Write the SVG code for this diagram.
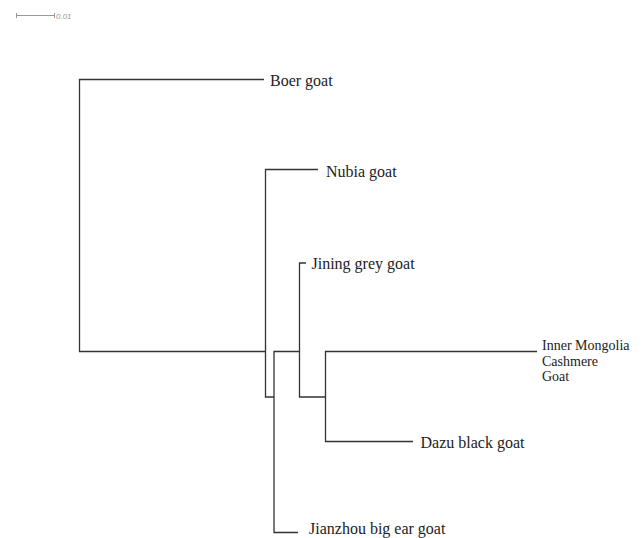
<svg xmlns="http://www.w3.org/2000/svg" width="642" height="538" viewBox="0 0 642 538">
<style>
.br{fill:none;stroke:#333;stroke-width:1.3}
.lbl{font-family:"Liberation Serif","Times New Roman",serif;font-size:16px;fill:#222}
.sm{font-size:14px}
.sc{fill:none;stroke:#999;stroke-width:1}
.sct{font-family:"Liberation Sans",Arial,sans-serif;font-size:8px;font-style:italic;fill:#999}
</style>
<rect width="642" height="538" fill="#fff"/>
<g id="scale">
<path class="sc" d="M16.5,13 V18 M16.5,15.5 H54.5 M54.5,13 V18"/>
<text class="sct" x="56" y="18.5">0.01</text>
</g>
<g id="connectors">
<path class="br" d="M264,79.5 H79.5 V351.5 H265.5"/>
<path class="br" d="M318,169.5 H265.5 V397 H274"/>
<path class="br" d="M298,532.5 H274 V351.5 H299.5"/>
<path class="br" d="M306,263 H299.5 V397 H325.5"/>
<path class="br" d="M537,351.5 H325.5 V441.5 H413"/>
</g>
<g id="boer"><text class="lbl" x="270" y="86">Boer goat</text></g>
<g id="nubia"><text class="lbl" x="326" y="176.5">Nubia goat</text></g>
<g id="jining"><text class="lbl" x="311.5" y="269">Jining grey goat</text></g>
<g id="inner-mongolia"><text class="lbl sm" x="542" y="350"><tspan x="542" y="350">Inner Mongolia</tspan><tspan x="542" y="365.5">Cashmere</tspan><tspan x="542" y="381">Goat</tspan></text></g>
<g id="dazu"><text class="lbl" x="420.5" y="448">Dazu black goat</text></g>
<g id="jianzhou"><text class="lbl" x="309" y="534">Jianzhou big ear goat</text></g>
</svg>
